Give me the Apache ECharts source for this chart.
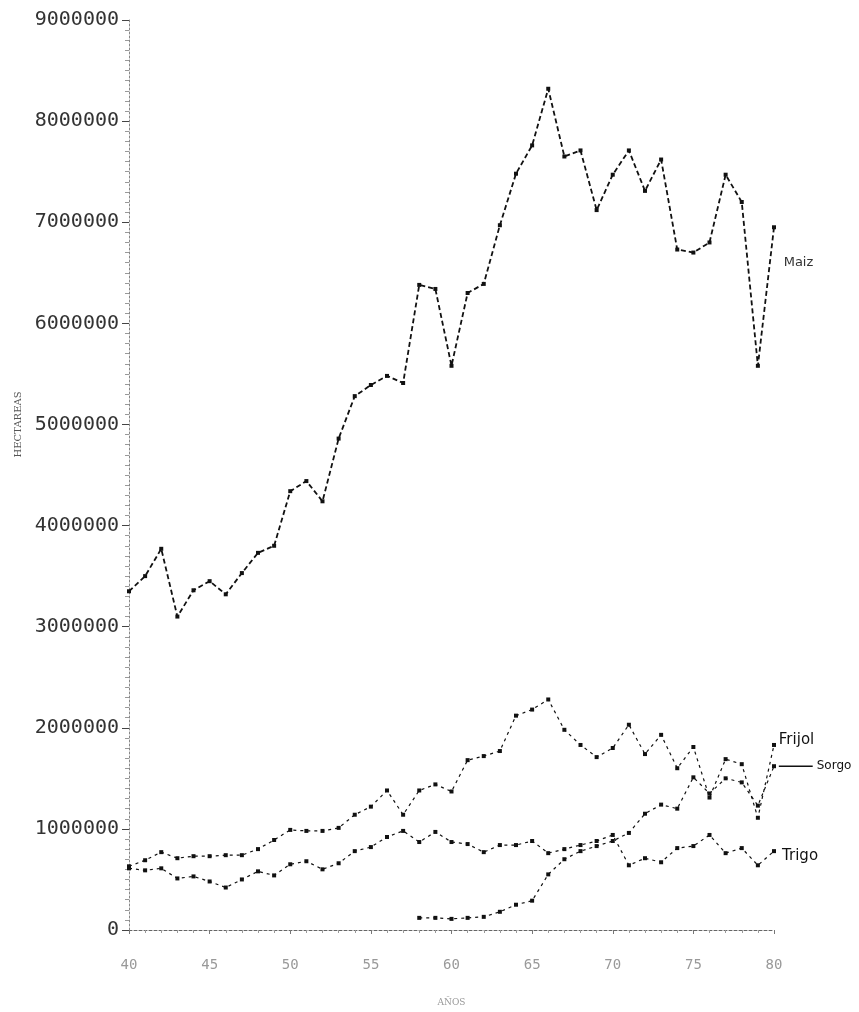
<!DOCTYPE html>
<html lang="es">
<head>
    <meta charset="utf-8">
    <title>Superficie cosechada 1940-1980</title>
    <script src="https://cdn.jsdelivr.net/npm/echarts@6/dist/echarts.min.js"></script>
    <style>
        body { margin: 0; background: #fff; }
        #chart { width: 859px; height: 1012px; }
    </style>
</head>
<body>
<div id="chart"></div>
<script>
    // años (19xx)
    const years = [40, 41, 42, 43, 44, 45, 46, 47, 48, 49, 50, 51, 52, 53, 54, 55, 56, 57, 58, 59,
        60, 61, 62, 63, 64, 65, 66, 67, 68, 69, 70, 71, 72, 73, 74, 75, 76, 77, 78, 79, 80];

    // hectareas, en millones
    const maiz = [3.35, 3.5, 3.77, 3.1, 3.36, 3.45, 3.32, 3.53, 3.73, 3.8,
        4.34, 4.44, 4.24, 4.86, 5.28, 5.39, 5.48, 5.41, 6.38, 6.34,
        5.58, 6.3, 6.39, 6.97, 7.48, 7.76, 8.32, 7.65, 7.71, 7.12,
        7.47, 7.71, 7.31, 7.62, 6.73, 6.7, 6.8, 7.47, 7.2, 5.58, 6.95];
    const frijol = [0.63, 0.69, 0.77, 0.71, 0.73, 0.73, 0.74, 0.74, 0.8, 0.89,
        0.99, 0.98, 0.98, 1.01, 1.14, 1.22, 1.38, 1.14, 1.38, 1.44,
        1.37, 1.68, 1.72, 1.77, 2.12, 2.18, 2.28, 1.98, 1.83, 1.71,
        1.8, 2.03, 1.74, 1.93, 1.6, 1.81, 1.31, 1.69, 1.64, 1.11, 1.83];
    const trigo = [0.61, 0.59, 0.61, 0.51, 0.53, 0.48, 0.42, 0.5, 0.58, 0.54,
        0.65, 0.68, 0.6, 0.66, 0.78, 0.82, 0.92, 0.98, 0.87, 0.97,
        0.87, 0.85, 0.77, 0.84, 0.84, 0.88, 0.76, 0.8, 0.84, 0.88,
        0.94, 0.64, 0.71, 0.67, 0.81, 0.83, 0.94, 0.76, 0.81, 0.64, 0.78];
    // sorgo empieza en 1958
    const sorgoYears = [58, 59, 60, 61, 62, 63, 64, 65, 66, 67, 68, 69, 70, 71, 72, 73, 74, 75, 76, 77, 78, 79, 80];
    const sorgo = [0.12, 0.12, 0.11, 0.12, 0.13, 0.18, 0.25, 0.29, 0.55, 0.7, 0.78, 0.83,
        0.88, 0.96, 1.15, 1.24, 1.2, 1.51, 1.35, 1.5, 1.46, 1.23, 1.62];

    const yTicks = [0, 1000000, 2000000, 3000000, 4000000, 5000000, 6000000, 7000000, 8000000, 9000000];
    const xTicks = [40, 45, 50, 55, 60, 65, 70, 75, 80];

    function pairs(xs, vals) {
        return xs.map(function (x, i) { return [x, Math.round(vals[i] * 1000000)]; });
    }

    function lineSeries(name, data, width, dash) {
        return {
            name: name,
            type: 'line',
            data: data,
            symbol: 'rect',
            symbolSize: 4,
            itemStyle: { color: '#111' },
            lineStyle: { color: '#111', width: width, type: dash },
            silent: true
        };
    }

    const chart = echarts.init(document.getElementById('chart'));
    chart.setOption({
        animation: false,
        backgroundColor: '#fff',
        grid: { left: 129, right: 85, top: 20, bottom: 82 },
        xAxis: {
            type: 'value',
            min: 40,
            max: 80,
            interval: 5,
            name: 'AÑOS',
            nameLocation: 'middle',
            nameGap: 68,
            nameTextStyle: { color: '#999', fontSize: 9, fontFamily: 'DejaVu Serif' },
            axisLine: { lineStyle: { color: '#666', width: 1, type: [3, 2] } },
            axisTick: { show: true, length: 4, lineStyle: { color: '#777' } },
            minorTick: { show: true, splitNumber: 5, length: 3, lineStyle: { color: '#999' } },
            splitLine: { show: false },
            axisLabel: {
                color: '#999', fontSize: 14, fontFamily: 'DejaVu Sans Mono', margin: 28,
                formatter: function (v) { return xTicks.indexOf(v) >= 0 ? String(v) : ''; }
            }
        },
        yAxis: {
            type: 'value',
            min: 0,
            max: 9000000,
            interval: 1000000,
            axisLine: { show: true, lineStyle: { color: '#888', width: 1, type: [2, 2] } },
            axisTick: { show: true, length: 7, lineStyle: { color: '#444' } },
            minorTick: { show: true, splitNumber: 10, length: 4, lineStyle: { color: '#999' } },
            splitLine: { show: false },
            axisLabel: {
                color: '#333', fontSize: 20, fontFamily: 'DejaVu Sans Mono', margin: 10,
                formatter: function (v) { return yTicks.indexOf(v) >= 0 ? String(v) : ''; }
            }
        },
        series: [
            lineSeries('Maiz', pairs(years, maiz), 1.8, [5, 3]),
            lineSeries('Frijol', pairs(years, frijol), 1.2, [3, 4]),
            lineSeries('Trigo', pairs(years, trigo), 1.2, [3, 4]),
            lineSeries('Sorgo', pairs(sorgoYears, sorgo), 1.2, [3, 4])
        ]
    });

    // etiquetas escritas a mano junto al final de cada serie
    const labelFont = '15px "DejaVu Sans"';
    const pMaiz = chart.convertToPixel({ gridIndex: 0 }, [80.6, 6600000]);
    const pFrijol = chart.convertToPixel({ gridIndex: 0 }, [80.3, 1880000]);
    const pSorgoStart = chart.convertToPixel({ gridIndex: 0 }, [80.3, 1620000]);
    const pSorgoEnd = chart.convertToPixel({ gridIndex: 0 }, [82.4, 1620000]);
    const pTrigo = chart.convertToPixel({ gridIndex: 0 }, [80.5, 730000]);
    const pName = chart.convertToPixel({ gridIndex: 0 }, [40, 5000000]);

    chart.setOption({
        graphic: [
            {
                type: 'text', x: 18, y: pName[1], rotation: Math.PI / 2,
                style: { text: 'HECTAREAS', font: '10px "DejaVu Serif"', fill: '#555', align: 'center', verticalAlign: 'middle' }
            },
            { type: 'text', x: pMaiz[0], y: pMaiz[1], style: { text: 'Maiz', font: '13px "DejaVu Sans"', fill: '#333', verticalAlign: 'middle' } },
            { type: 'text', x: pFrijol[0], y: pFrijol[1], style: { text: 'Frijol', font: labelFont, fill: '#111', verticalAlign: 'middle' } },
            { type: 'line', shape: { x1: pSorgoStart[0], y1: pSorgoStart[1], x2: pSorgoEnd[0], y2: pSorgoEnd[1] }, style: { stroke: '#111', lineWidth: 1.5 } },
            { type: 'text', x: pSorgoEnd[0] + 4, y: pSorgoEnd[1], style: { text: 'Sorgo', font: '12px "DejaVu Sans"', fill: '#111', verticalAlign: 'middle' } },
            { type: 'text', x: pTrigo[0], y: pTrigo[1], style: { text: 'Trigo', font: labelFont, fill: '#111', verticalAlign: 'middle' } }
        ]
    });
</script>
</body>
</html>
